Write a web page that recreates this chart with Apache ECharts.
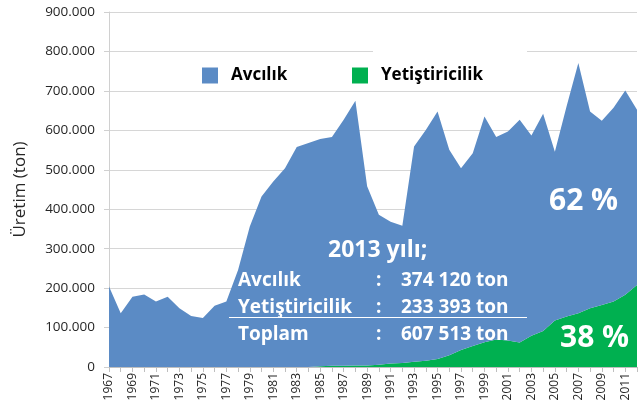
<!DOCTYPE html>
<html>
  <head>
    <meta http-equiv="Content-Type" content="text/html; charset=utf-8">
    <title>Avcılık ve Yetiştiricilik</title>
    <script src="https://cdn.jsdelivr.net/npm/echarts@6/dist/echarts.min.js"></script>
    <style>
      html, body { margin: 0; padding: 0; background: #fff; }
      #chart { width: 643px; height: 413px; }
    </style>
  </head>
  <body>
    <div id="chart"></div>
    <script type="text/javascript">
      // yıllar 1967-2012
      var years = [];
      for (var y = 1967; y <= 2012; y++) years.push(String(y));

      // avcılık (bin ton)
      var avcilik = [204, 136, 178, 184, 166, 178, 149, 129, 124, 155,
                     166, 246, 356, 432, 470, 504, 558, 568, 576, 580,
                     624, 671, 454, 380, 359, 348, 546, 585, 628, 521,
                     461, 489, 572, 513, 530, 565, 508, 551, 428, 533,
                     635, 499, 467, 491, 518, 444];
      // yetiştiricilik (bin ton)
      var yetistiricilik = [0, 0, 0, 0, 0, 0, 0, 0, 0, 0,
                            0, 0, 0, 0, 0, 0, 0, 0, 2, 3,
                            3, 4, 4, 6, 9, 10, 13, 16, 20, 30,
                            43, 53, 63, 70, 67, 62, 79, 91, 118, 128,
                            136, 149, 157, 166, 183, 208];

      var yTicks = [0, 100000, 200000, 300000, 400000, 500000, 600000, 700000, 800000, 900000];

      var font = 'Open Sans';
      var blue = '#5b8bc5';
      var green = '#00b050';

      function ton(arr) { return arr.map(function (v) { return v * 1000; }); }
      function fmt(v) {
        return v === 0 ? '0' : String(v).replace(/\B(?=(\d{3})+(?!\d))/g, '.');
      }
      function yazi(x, y, text, size) {
        return {
          type: 'text', z: 100, x: x, y: y,
          style: { text: text, fill: '#fff', font: 'bold ' + size + 'px "' + font + '"', verticalAlign: 'middle' }
        };
      }

      var legendText = { fontFamily: font, fontSize: 17, fontWeight: 'bold', color: '#000', padding: [0, 0, 0, 8] };

      var myChart = echarts.init(document.getElementById('chart'));
      myChart.setOption({
        animation: false,
        textStyle: { fontFamily: font },
        grid: { left: 109, right: 6, top: 12, bottom: 46 },
        legend: [
          { data: ['Avcılık'], left: 197, top: 62, icon: 'rect', itemWidth: 16, itemHeight: 16, textStyle: legendText },
          { data: ['Yetiştiricilik'], left: 347, top: 62, icon: 'rect', itemWidth: 16, itemHeight: 16, textStyle: legendText }
        ],
        xAxis: {
          type: 'category',
          data: years,
          boundaryGap: false,
          axisLine: { lineStyle: { color: '#bfbfbf' } },
          axisTick: { interval: 0, length: 5, lineStyle: { color: '#bfbfbf' } },
          axisLabel: { interval: 1, rotate: 90, fontSize: 12, color: '#262626', margin: 6 }
        },
        yAxis: {
          type: 'value',
          min: yTicks[0],
          max: yTicks[yTicks.length - 1],
          interval: 100000,
          name: 'Üretim (ton)',
          nameLocation: 'middle',
          nameRotate: 90,
          nameGap: 80,
          nameTextStyle: { fontSize: 17, color: '#262626' },
          axisLine: { show: true, lineStyle: { color: '#d0d0d0' } },
          axisTick: { show: true, length: 5, lineStyle: { color: '#d0d0d0' } },
          splitLine: { lineStyle: { color: '#d6d6d6' } },
          axisLabel: { fontSize: 13.5, color: '#262626', margin: 14, formatter: fmt }
        },
        series: [
          {
            name: 'Yetiştiricilik',
            type: 'line',
            stack: 'toplam',
            data: ton(yetistiricilik),
            symbol: 'none',
            lineStyle: { width: 0 },
            itemStyle: { color: green },
            areaStyle: { color: green, opacity: 1 }
          },
          {
            name: 'Avcılık',
            type: 'line',
            stack: 'toplam',
            data: ton(avcilik),
            symbol: 'none',
            lineStyle: { width: 0 },
            itemStyle: { color: blue },
            areaStyle: { color: blue, opacity: 1 }
          }
        ],
        graphic: [
          { type: 'rect', z: 1, shape: { x: 373, y: 49, width: 154, height: 34 }, style: { fill: '#fff' } },
          yazi(549, 201, '62 %', 30),
          yazi(560, 338, '38 %', 30),
          yazi(328, 250, '2013 yılı;', 23),
          yazi(238, 281, 'Avcılık', 19),
          yazi(376, 281, ':', 19),
          yazi(401, 281, '374 120 ton', 19),
          yazi(238, 308, 'Yetiştiricilik', 19),
          yazi(376, 308, ':', 19),
          yazi(401, 308, '233 393 ton', 19),
          { type: 'line', z: 100, shape: { x1: 229, y1: 317.5, x2: 527, y2: 317.5 }, style: { stroke: '#fff', lineWidth: 1 } },
          yazi(238, 335, 'Toplam', 19),
          yazi(376, 335, ':', 19),
          yazi(401, 335, '607 513 ton', 19)
        ]
      });
    </script>
  </body>
</html>
